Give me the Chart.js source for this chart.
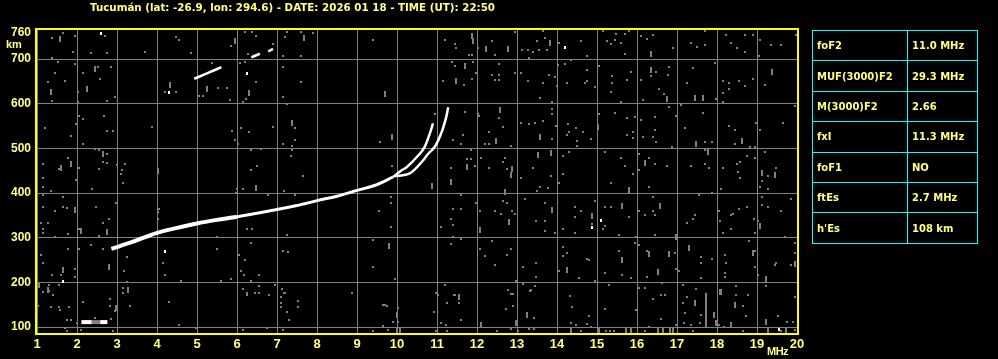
<!DOCTYPE html>
<html>
<head>
<meta charset="utf-8">
<script src="https://cdn.jsdelivr.net/npm/chart.js@4.4.1/dist/chart.umd.min.js"></script>
<style>
body { margin: 0; background: #000; width: 998px; height: 359px; overflow: hidden; position: relative; }
#c { position: absolute; left: 0; top: 0; }
.lbl { position: absolute; color: #ffff80; font-weight: bold; white-space: nowrap; }
#title { left: 90px; top: 0.5px; font: bold 10.3px "DejaVu Sans"; line-height: 12px; }
#km { left: 6px; top: 37px; font: bold 11px "Liberation Sans"; line-height: 14px; }
#mhz { left: 767px; top: 344px; font: bold 11px "Liberation Sans"; line-height: 14px; letter-spacing: -0.5px; }
#info { position: absolute; left: 812px; top: 30px; border-collapse: collapse; }
#info td { border: 1px solid #00ffff; height: 30.4px; padding: 0 0 0 4px; color: #ffff80; font: bold 10px "DejaVu Sans"; box-sizing: border-box; }
#info td:first-child { width: 95px; }
#info td:last-child { width: 70px; }
</style>
</head>
<body>
<canvas id="c" width="998" height="359"></canvas>
<div class="lbl" id="title">Tucumán (lat: -26.9, lon: 294.6) - DATE: 2026 01 18 - TIME (UT): 22:50</div>
<div class="lbl" id="km">km</div>
<div class="lbl" id="mhz">MHz</div>
<table id="info">
  <tr><td>foF2</td><td>11.0 MHz</td></tr>
  <tr><td>MUF(3000)F2</td><td>29.3 MHz</td></tr>
  <tr><td>M(3000)F2</td><td>2.66</td></tr>
  <tr><td>fxI</td><td>11.3 MHz</td></tr>
  <tr><td>foF1</td><td>NO</td></tr>
  <tr><td>ftEs</td><td>2.7 MHz</td></tr>
  <tr><td>h'Es</td><td>108 km</td></tr>
</table>
<script>
// axes
const freqTicks = [1, 2, 3, 4, 5, 6, 7, 8, 9, 10, 11, 12, 13, 14, 15, 16, 17, 18, 19, 20];
const heightTicks = [100, 200, 300, 400, 500, 600, 700, 760];

// F trace (virtual height vs frequency)
const traceLowMHz = [2.86, 3.4, 4.0, 4.5, 5.0, 5.5, 6.0];
const traceLowKm  = [275, 291, 311, 322, 332, 340, 347];
const traceMidMHz = [6.0, 6.5, 7.0, 7.5, 8.0, 8.5, 9.0, 9.5, 9.9];
const traceMidKm  = [347, 355, 363, 372, 383, 393, 406, 419, 436];
const oModeMHz = [9.9, 10.1, 10.24, 10.53, 10.69, 10.82, 10.9];
const oModeKm  = [436, 450, 458, 484, 503, 533, 556];
const xModeMHz = [9.95, 10.32, 10.65, 10.78, 10.94, 11.03, 11.13, 11.23, 11.28];
const xModeKm  = [438, 444, 473, 488, 503, 518, 540, 570, 592];
// second hop
const hop2MHz = [4.93, 5.25, 5.61, null, 6.36, 6.57, null, 6.78, 6.9];
const hop2Km  = [656, 668, 682, null, 704, 712, null, 717, 723];
// sporadic E
const esMHz = [2.11, 2.37, 2.58, 2.76];
const esKm  = [111, 111, 111, 111];

// background noise returns [MHz, km]
const noiseDots = [
  [13.64,762],[13.49,740],[13.69,748],[13.13,721],[13.28,721],[13.39,717],[13.55,721],[13.74,721],[13.30,703],[14.05,735],[14.34,699],[14.59,740],[14.74,708],[15.14,762],[15.25,740],[15.34,733],[15.44,742],[15.48,757],[15.59,737],[15.69,757],[15.79,762],[15.69,712],[16.09,752],[16.24,744],[16.39,755],[16.90,726],[17.34,735],[17.49,728],[17.69,762],[17.69,731],[18.23,753],[18.34,735],[18.49,726],[18.69,753],[18.69,717],[18.89,753],[19.08,743],[19.04,708],[19.34,731],[19.59,731],[19.98,753],
  [13.11,669],[13.28,650],[13.64,647],[13.80,665],[13.94,660],[14.03,686],[14.19,690],[14.00,640],[14.24,647],[14.74,675],[14.74,651],[14.69,647],[14.94,638],[15.04,684],[15.38,662],[15.38,647],[15.34,627],[15.74,653],[15.84,671],[16.09,654],[16.34,662],[16.48,671],[16.80,683],[16.78,664],[16.54,634],[16.67,621],[16.15,608],[15.59,603],[17.24,647],[17.39,679],[17.94,692],[17.98,610],[18.14,651],[18.29,647],[18.29,632],[18.14,625],[18.54,651],[18.69,639],[18.89,655],[19.19,643],[18.15,603],[13.58,612],[13.88,603],
  [13.10,558],[13.30,554],[13.44,558],[13.64,561],[13.88,589],[13.88,576],[13.88,522],[13.98,550],[14.27,554],[14.48,545],[14.30,536],[14.24,531],[14.64,536],[14.84,522],[14.50,516],[15.04,576],[15.44,580],[15.74,567],[15.89,536],[15.75,531],[15.94,571],[16.09,563],[15.89,524],[16.14,526],[16.40,526],[16.44,541],[16.48,514],[16.44,571],[16.79,593],[16.98,572],[17.09,598],[17.19,545],[17.64,580],[17.69,514],[17.88,514],[18.29,550],[18.44,541],[18.44,509],[18.98,558],[19.08,541],[19.65,558],[19.94,595],[16.88,504],
  [14.14,483],[14.29,491],[14.50,506],[15.19,491],[15.59,478],[16.04,487],[16.29,478],[17.69,496],[18.82,504],[18.94,504],[18.74,483],[18.94,478],[19.19,491],[18.58,470],
  [13.40,456],[13.84,438],[14.14,442],[14.04,423],[13.09,434],[13.58,414],[13.78,412],[13.49,405],[15.34,423],[15.69,460],[15.90,442],[16.04,451],[16.44,464],[16.74,460],[16.29,414],[17.34,460],[17.69,464],[17.79,456],[18.14,457],[18.50,464],[18.52,447],[18.58,434],[18.11,409],[19.28,438],[19.48,456],[19.13,427],[19.08,414],[19.28,409],
  [13.19,386],[13.69,378],[13.48,337],[13.69,337],[13.69,316],[13.94,311],[14.14,319],[14.44,369],[14.59,360],[14.44,347],[14.44,311],[14.88,331],[14.94,382],[15.19,369],[15.34,369],[15.19,326],[15.14,319],[15.79,347],[15.54,306],[16.04,360],[16.19,351],[16.39,391],[16.39,360],[16.44,351],[16.44,306],[15.98,302],[17.24,333],[17.39,342],[17.44,351],[17.54,395],[17.88,400],[18.04,360],[18.07,337],[18.34,351],[18.39,352],[18.34,319],[18.54,364],[18.74,369],[18.14,311],[18.93,342],[19.03,337],[18.94,311],[19.13,391],[19.13,374],[19.27,369],[19.59,360],[19.84,386],[19.69,302],
  [14.14,280],[14.24,266],[14.14,258],[14.04,226],[13.48,244],[13.14,235],[13.48,213],[14.55,209],[14.74,252],[14.79,249],[14.94,203],[15.19,222],[15.54,271],[15.63,217],[15.84,209],[16.04,284],[15.94,289],[16.24,271],[16.24,213],[16.94,266],[16.98,230],[17.04,226],[17.59,256],[17.59,244],[17.88,252],[17.59,209],[18.19,261],[18.23,244],[18.19,220],[18.19,213],[18.94,271],[18.79,293],[18.94,235],[19.03,217],[19.44,239],[19.48,244],[19.84,239],[19.94,289],[19.94,266],
  [13.14,197],[13.44,191],[13.34,182],[15.30,194],[16.04,187],[16.19,187],[16.63,199],[17.14,194],[17.48,185],[18.48,191],[19.23,191],
  [2.04,572],[2.14,566],[2.68,572],[1.19,545],[1.84,527],[2.14,509],[1.98,554],[2.74,540],[2.90,540],[3.88,549],[2.45,499],[2.55,496],[2.74,487],[1.78,478],[1.14,464],[1.54,453],[2.04,456],[2.64,470],[2.76,468],[2.54,453],[3.01,462],[3.20,464],[3.12,451],[3.09,442],[3.15,423],[1.14,434],[1.98,429],[1.14,414],[1.34,404],[1.14,395],[1.64,391],[2.38,409],[2.98,378],[1.14,369],[1.64,369],[1.74,366],[1.44,360],[2.48,369],[4.05,364],[1.09,334],[1.28,333],[1.15,319],[1.14,310],[2.04,319],[1.78,308],[2.64,332],[2.79,343],[4.03,358],[4.03,342],[2.54,304],[1.45,302],[1.14,243],[1.09,261],[1.78,275],[2.04,275],[2.34,284],[2.64,275],[1.38,217],[1.59,217],[1.95,230],[1.95,212],[1.30,194],[1.54,194],[1.14,178],[3.24,256],[3.18,226],[4.14,244],[4.19,217],[4.59,204],[3.24,200],[3.15,187],
  [5.88,540],[6.09,545],[6.29,537],[5.95,518],[6.03,509],[6.34,496],[6.59,499],[6.90,549],[7.45,545],[7.44,518],[7.38,505],[7.14,509],[7.38,496],[7.34,483],[6.49,460],[6.34,451],[5.99,409],[6.14,409],[5.98,401],[6.78,395],[7.18,404],[7.44,395],[6.24,319],[6.38,319],[5.51,301],[5.49,275],[6.34,289],[6.05,261],[6.19,249],[6.09,226],[6.18,217],[6.54,217],[5.84,208],[5.59,204],[6.34,204],[7.14,271],[7.28,267],[7.24,306],[6.95,194],[7.12,185],[6.54,191],[6.14,185],[6.26,176],[7.18,176],
  [7.64,438],[9.58,514],[9.88,460],[9.84,391],[9.84,378],[9.54,360],[9.84,325],[9.39,296],[9.39,235],[9.94,208],[8.88,177],[11.34,456],[11.39,518],[11.64,531],[11.59,509],[11.74,477],[11.84,496],[11.84,477],[11.94,460],[12.04,572],[12.29,537],[12.54,568],[12.64,549],[12.19,509],[12.29,509],[12.84,505],[12.09,479],[12.29,456],[12.69,479],[12.64,470],[12.74,455],[11.59,395],[11.39,364],[11.59,364],[11.09,324],[11.34,342],[11.39,328],[11.39,302],[11.34,285],[11.59,297],[11.98,378],[12.08,360],[12.44,360],[12.59,352],[12.64,382],[12.74,377],[12.88,360],[12.94,352],[12.38,293],[12.08,275],[12.84,275],[12.19,258],[12.74,261],[12.44,239],[12.98,204],[11.19,194],[10.98,176],[11.42,172],[12.78,182],[12.90,174],
  [1.38,748],[1.65,758],[1.94,752],[1.89,717],[2.69,752],[2.34,713],[2.74,713],[1.38,703],[1.53,693],[1.94,689],[1.44,670],[2.14,670],[2.53,683],[2.57,656],[2.86,683],[1.28,648],[1.69,652],[2.03,626],[2.03,603],[1.38,607],[2.94,616],[2.74,607],[3.69,717],[4.48,749],[4.54,743],[4.84,713],[4.19,626],[4.48,626],[5.05,617],[5.14,617],[5.38,691],[5.53,635],[5.74,635],[5.82,609],[5.84,730],[6.19,761],[6.38,761],[6.48,752],[6.07,691],[6.19,693],[6.28,712],[6.48,648],[6.22,611],[6.14,603],[6.90,734],[7.14,708],[7.15,683],[7.15,616],[7.24,600],[7.25,761],[7.19,749],[7.59,761],[7.89,758],[7.59,708],[7.59,648],[9.39,743],[11.19,743],[11.44,734],[11.48,726],[11.80,710],[11.88,710],[12.03,726],[12.38,741],[12.44,710],[12.94,760],[11.38,693],[11.44,685],[11.90,693],[11.98,670],[12.38,665],[12.54,665],[12.54,654],[12.44,654],[12.54,689],[11.14,652],[11.67,643],[11.88,656],[12.94,670],[11.69,581],[12.03,578],[12.54,569],[10.94,578],
  [1.29,181],[1.40,172],[1.02,148],[1.34,144],[1.55,144],[1.58,139],[1.79,144],[1.74,116],[1.84,116],[2.00,109],[1.69,98],[1.74,90],[2.14,157],[2.44,120],[2.09,94],[2.82,162],[2.82,148],[2.94,135],[2.86,118],[2.90,90],[3.15,177],[3.28,181],[3.33,148],[4.29,157],[4.54,104],[4.98,98],[6.24,172],[6.44,177],[6.54,177],[6.79,172],[7.09,167],[7.19,177],[7.09,154],[7.09,144],[7.24,133],[7.53,159],[7.53,144],[7.30,116],[6.14,94],[6.74,98],[7.14,94],[9.39,90],[9.64,103],[9.69,150],[9.64,150],[9.75,146],[9.78,94],[9.89,111],[10.03,142],[10.03,112],[10.98,177],[11.03,172],[11.24,154],[10.92,133],[11.09,109],[11.22,105],[10.98,90],[11.44,172],[11.55,154],[11.61,116],[11.24,90],[12.51,90],
  [12.86,174],[12.90,148],[12.72,140],[13.42,121],[12.86,95],[13.03,90],[13.30,95],[13.42,95],[13.33,181],[14.32,170],[14.38,144],[14.80,124],[14.34,109],[14.47,104],[14.75,107],[14.84,101],[14.61,90],[15.22,90],[15.32,90],[15.43,92],[15.19,140],[15.98,139],[16.19,90],[16.29,100],[16.40,162],[16.59,172],[16.69,172],[16.59,119],[16.98,105],[17.15,154],[17.24,168],[17.19,131],[17.17,109],[17.36,105],[17.40,90],[17.59,128],[17.57,109],[18.04,105],[18.17,100],[18.48,172],[18.65,148],[18.77,172],[18.73,124],[18.65,90],[19.52,124],[19.61,90],[19.75,111],[19.90,111],[19.94,168],[19.94,94]
];
const noiseStreaks = [
  [13.82,735],[16.34,712],[16.34,675],[16.74,610],[17.44,614],[17.64,614],[19.38,671],[13.58,525],[15.03,547],[17.48,511],[18.63,516],[13.53,485],[13.84,489],[17.78,493],[15.79,406],[16.19,467],[19.13,445],[19.44,440],[13.88,362],[14.88,348],[15.63,371],[16.58,371],[19.08,327],[14.24,228],[15.63,249],[16.29,264],[16.53,224],[16.79,264],[16.98,301],[17.29,278],[18.90,266],[19.23,207],[19.94,241],[18.09,179],
  [2.64,488],[1.59,457],[1.84,464],[4.03,450],[1.95,362],[2.09,315],[2.74,313],[2.79,235],[1.64,228],[1.04,193],[1.28,183],[3.28,183],[7.38,558],[6.48,412],
  [9.88,525],[9.79,282],[10.88,416],[11.34,425],[11.74,458],[12.48,516],[12.88,455],[12.84,441],[12.69,403],[12.79,336],[12.08,317],
  [1.58,745],[1.34,626],[2.24,632],[2.44,678],[4.33,641],[5.25,632],[5.95,741],[6.30,624],[7.67,747],[9.69,622],[11.88,752],[11.90,740],[12.23,723],[12.78,723],[11.69,685],[11.48,650],[12.58,585],
  [2.97,142],[9.99,126],[9.99,94],[10.07,94],[11.55,168],[12.09,105],
  [13.24,127],[12.98,109],[14.34,92],[15.05,94],[15.73,92],[15.84,92],[16.53,90],[16.65,90],[16.82,94],[16.90,92],[17.44,154],[17.93,128],[17.97,109],[18.07,179],[18.34,105],[18.44,150],[19.23,112],[19.27,92],[19.73,90]
];
const noiseLong = [[17.73,137]];
const noiseWhite = [[14.19,727],[15.09,339],[14.88,322],[6.24,667],[4.29,626],[2.59,758],[1.64,202],[4.19,270],[19.54,95]];

const YELLOW = '#ffff80';
const GRID = '#808080';

function pts(xs, ys) {
    return xs.map((x, i) => ({ x: x, y: ys[i] }));
}
function pairs(list) {
    return list.map(p => ({ x: p[0], y: p[1] }));
}
function block(w, h, color) {
    const c = document.createElement('canvas');
    c.width = w; c.height = h;
    const g = c.getContext('2d');
    g.fillStyle = color;
    g.fillRect(0, 0, w, h);
    return c;
}

function traceSet(data, width) {
    return {
        data: data,
        showLine: true,
        borderColor: '#ffffff',
        borderWidth: width,
        pointRadius: 0,
        cubicInterpolationMode: 'monotone',
        spanGaps: false
    };
}
function noiseSet(data, style) {
    return {
        data: data,
        showLine: false,
        pointStyle: style,
        pointRadius: 1,
        pointHoverRadius: 1
    };
}

// yellow frame round the plot
const frame = {
    id: 'frame',
    afterDraw(chart) {
        const { ctx, chartArea: a } = chart;
        ctx.save();
        ctx.strokeStyle = '#ffff00';
        ctx.lineWidth = 2;
        ctx.strokeRect(a.left - 1, a.top - 1, a.right - a.left + 2, a.bottom - a.top + 2);
        ctx.restore();
    }
};

const esSet = traceSet(pts(esMHz, esKm), 4);
esSet.cubicInterpolationMode = 'default';
esSet.tension = 0;
esSet.segment = { borderColor: c => c.p0DataIndex === 1 ? GRID : '#ffffff' };

new Chart(document.getElementById('c'), {
    type: 'scatter',
    data: {
        datasets: [
            noiseSet(pairs(noiseDots), block(2, 2, GRID)),
            noiseSet(pairs(noiseStreaks), block(2, 6, GRID)),
            noiseSet(pairs(noiseLong), block(2, 34, GRID)),
            noiseSet(pairs(noiseWhite), block(2, 3, '#ffffff')),
            traceSet(pts(traceLowMHz, traceLowKm), 4),
            traceSet(pts(traceMidMHz, traceMidKm), 3),
            traceSet(pts(oModeMHz, oModeKm), 2.5),
            traceSet(pts(xModeMHz, xModeKm), 2.5),
            traceSet(pts(hop2MHz, hop2Km), 2.5),
            esSet
        ]
    },
    options: {
        responsive: false,
        animation: false,
        devicePixelRatio: 1,
        layout: { padding: { left: 0, right: 201, top: 30, bottom: 0 } },
        plugins: { legend: { display: false }, tooltip: { enabled: false } },
        events: [],
        scales: {
            x: {
                type: 'linear',
                min: 1,
                max: 20,
                afterBuildTicks: s => { s.ticks = freqTicks.map(v => ({ value: v })); },
                afterFit: s => { s.height = 26; },
                border: { display: false },
                grid: { color: GRID, lineWidth: 1, drawTicks: false },
                ticks: {
                    color: YELLOW,
                    padding: 4,
                    maxRotation: 0,
                    font: { family: 'Liberation Sans', weight: 'bold', size: 13 }
                }
            },
            y: {
                type: 'linear',
                min: 86.6,
                max: 765.2,
                afterBuildTicks: s => { s.ticks = heightTicks.map(v => ({ value: v })); },
                afterFit: s => { s.width = 37; },
                border: { display: false },
                grid: {
                    color: c => c.tick && c.tick.value === 760 ? 'rgba(0,0,0,0)' : GRID,
                    lineWidth: 1,
                    drawTicks: false
                },
                ticks: {
                    color: YELLOW,
                    padding: 6,
                    font: { family: 'Liberation Sans', weight: 'bold', size: 12 }
                }
            }
        }
    },
    plugins: [frame]
});
</script>
</body>
</html>
